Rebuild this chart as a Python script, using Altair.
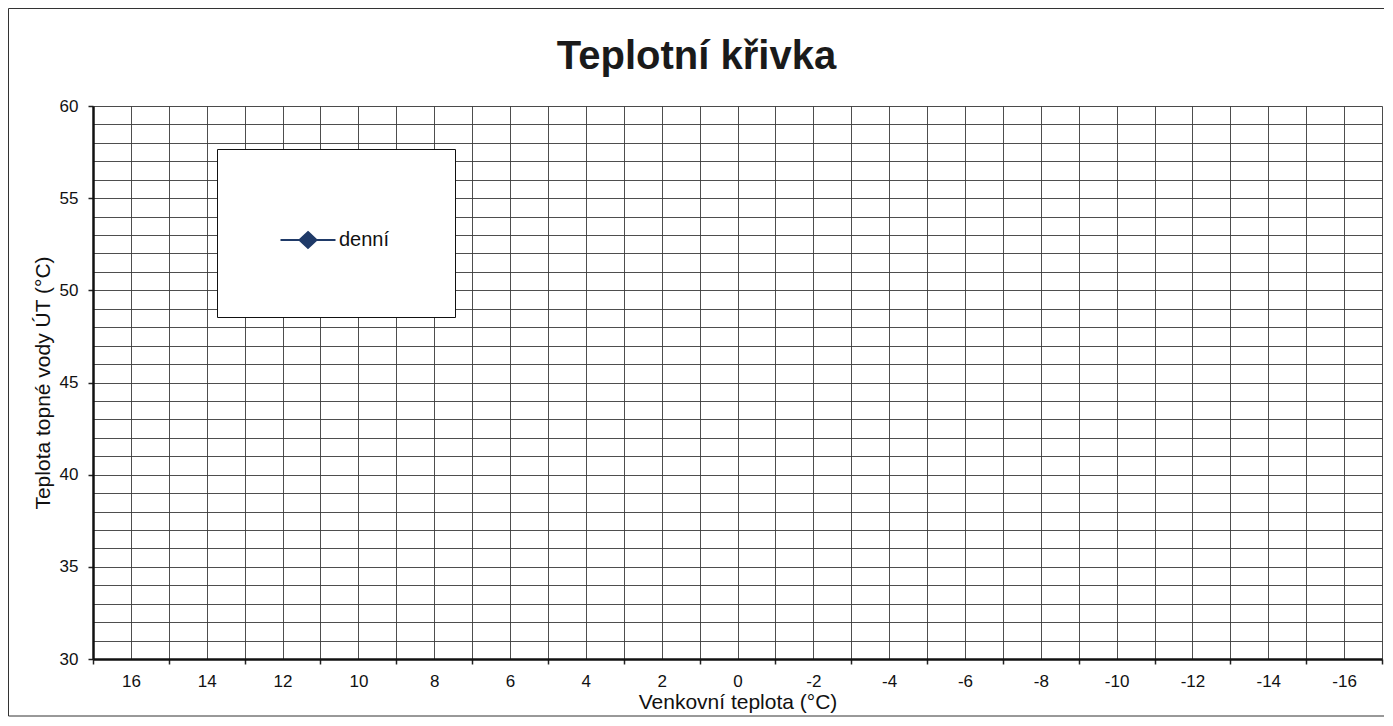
import altair as alt
import pandas as pd

# Outdoor temperature categories (x) – the plotted range runs 17 … -17
x_values = list(range(17, -18, -1))
# Series "denní" – the reference shows an empty curve (no points drawn)
denni = [None] * len(x_values)
series_name = "denní"

x_label_values = list(range(16, -17, -2))   # labelled values
x_tick_values = list(range(17, -18, -2))    # tick marks between labels
y_label_values = [30, 35, 40, 45, 50, 55, 60]

NAVY = "#1f3a68"
FONT = "Liberation Sans"

df = pd.DataFrame({"x": x_values, "y": denni, "series": [series_name] * len(x_values)})

x_axis = alt.Axis(
    values=x_values,
    title="Venkovní teplota (°C)",
    titleFont=FONT, titleFontSize=21, titleFontWeight="normal", titleColor="#111",
    titlePadding=2,
    labelExpr="abs(datum.value) % 2 == 0 ? toString(datum.value) : ''",
    labelFont=FONT, labelFontSize=17, labelColor="#111", labelPadding=9,
    labelFlush=False, labelOverlap=False,
    tickSize=5, tickColor="#222", tickWidth=1.5,
    tickOpacity={"condition": {"test": "abs(datum.value) % 2 == 1", "value": 1}, "value": 0},
    grid=True, gridColor="#3a3a3a", gridWidth=0.9,
    domainColor="#111", domainWidth=2.5,
)

y_axis = alt.Axis(
    values=list(range(30, 61)),
    title="Teplota topné vody ÚT (°C)",
    titleFont=FONT, titleFontSize=21, titleFontWeight="normal", titleColor="#111",
    titlePadding=6,
    labelExpr="datum.value % 5 == 0 ? toString(datum.value) : ''",
    labelFont=FONT, labelFontSize=17, labelColor="#111", labelPadding=10,
    labelFlush=False, labelOverlap=False,
    tickSize=5, tickColor="#222", tickWidth=1.5,
    tickOpacity={"condition": {"test": "datum.value % 5 == 0", "value": 1}, "value": 0},
    grid=True, gridColor="#3a3a3a", gridWidth=0.9,
    domainColor="#111", domainWidth=2.5,
)

line = alt.Chart(df).mark_line(
    color=NAVY, strokeWidth=2,
    point=alt.OverlayMarkDef(shape="diamond", filled=True, size=120, color=NAVY),
).encode(
    x=alt.X("x:Q", scale=alt.Scale(domain=[-17, 17], reverse=True, nice=False, zero=False), axis=x_axis),
    y=alt.Y("y:Q", scale=alt.Scale(domain=[30, 60], nice=False, zero=False), axis=y_axis),
    color=alt.Color(
        "series:N",
        scale=alt.Scale(domain=[series_name], range=[NAVY]),
        legend=alt.Legend(
            title=None, orient="none", legendX=124, legendY=43,
            symbolType="M-1.1,0H1.1M0,-0.32L0.34,0L0,0.32L-0.34,0Z",
            symbolSize=2500, symbolStrokeWidth=2,
            symbolFillColor=NAVY, symbolStrokeColor=NAVY, symbolOpacity=1,
            labelFont=FONT, labelFontSize=20, labelColor="#111", labelOffset=5,
            labelExpr="datum.label + '\u00a0\u00a0\u00a0\u00a0\u00a0'",
            padding=65, fillColor="white", strokeColor="#111",
        ),
    ),
)

frame = alt.Chart(pd.DataFrame({"a": [0]})).mark_rect(
    fillOpacity=0, stroke="#333", strokeWidth=1
).encode(
    x=alt.value(-84.5), x2=alt.value(1310), y=alt.value(-97.5), y2=alt.value(610)
)

chart = alt.layer(frame, line).properties(
    width=1289, height=553,
    autosize=alt.AutoSizeParams(type="none"),
    padding={"left": 85, "top": 98, "right": 2, "bottom": 59},
    title=alt.TitleParams(
        "Teplotní křivka", font=FONT, fontSize=40, fontWeight="bold", color="#1a1a1a",
        baseline="alphabetic", offset=-100.5, frame="group", anchor="middle", dx=-41,
    ),
).configure_view(stroke="#555", strokeWidth=2.5).configure(background="white")

chart.save("out.html", embed_options={"renderer": "svg", "actions": False})
